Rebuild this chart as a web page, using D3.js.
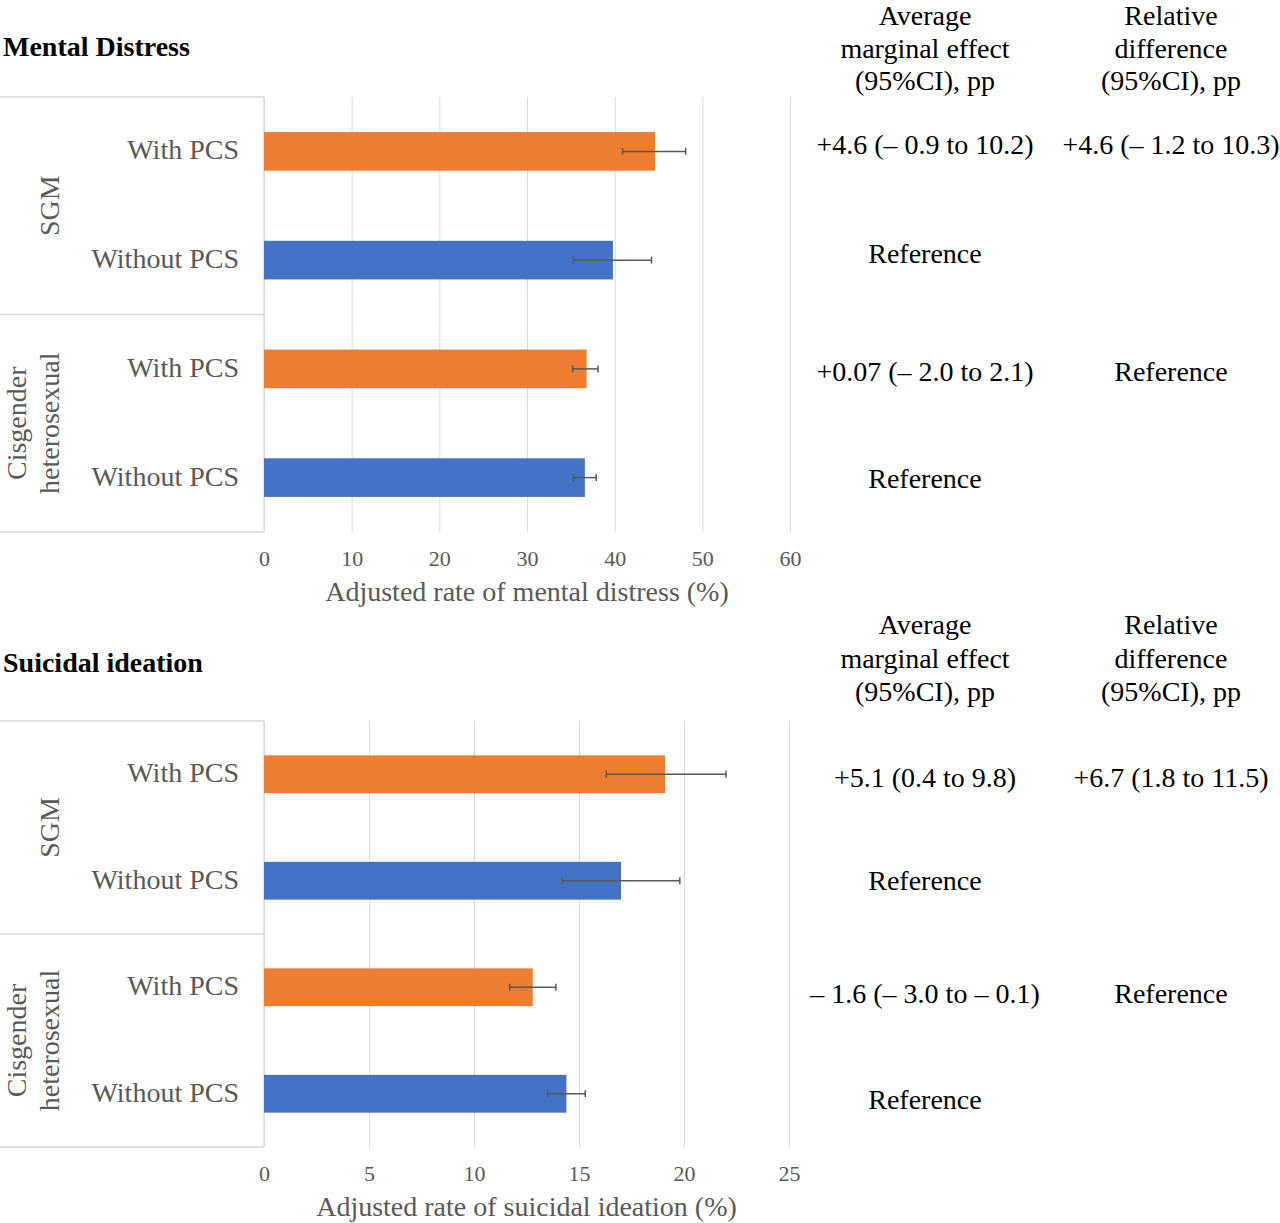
<!DOCTYPE html>
<html>
<head>
<meta charset="utf-8">
<script src="https://cdn.jsdelivr.net/npm/d3@7"></script>
<style>
  body { margin: 0; background: #fff; }
  svg { display: block; font-family: "Liberation Serif", "Times New Roman", serif; }
  .grid line { stroke: #d9d9d9; stroke-width: 1; }
  .grid path { display: none; }
  .ticks path, .ticks line { display: none; }
  .ticks text { font-family: "Liberation Serif", serif; font-size: 22px; fill: #595959; }
  .t_title { font-size: 28px; font-weight: bold; fill: #000; }
  .t_cat { font-size: 28px; fill: #595959; }
  .t_axis { font-size: 28px; fill: #595959; }
  .t_col { font-size: 28px; fill: #000; }
  .frame { stroke: #d9d9d9; stroke-width: 1.3; fill: none; }
  .err { stroke: #595959; stroke-width: 1.5; }
</style>
</head>
<body>
<svg width="1280" height="1223"></svg>
<script>
/* ----------------------------------------------------------
data
---------------------------------------------------------- */

var groups = ["SGM", "Cisgender heterosexual"];
var rowGroup = ["SGM", "SGM", "Cisgender heterosexual", "Cisgender heterosexual"];
var rowLabels = ["With PCS", "Without PCS", "With PCS", "Without PCS"];
var rowPcs = ["with", "without", "with", "without"];

// mental distress (%)
var mentalRate = [44.6, 39.8, 36.8, 36.6];
var mentalLow = [40.9, 35.3, 35.2, 35.3];
var mentalHigh = [48.1, 44.2, 38.1, 37.9];
var mentalTicks = [0, 10, 20, 30, 40, 50, 60];
var mentalAme = ["+4.6 (– 0.9 to 10.2)", "Reference", "+0.07 (– 2.0 to 2.1)", "Reference"];
var mentalRel = ["+4.6 (– 1.2 to 10.3)", "", "Reference", ""];

// suicidal ideation (%)
var suicideRate = [19.1, 17.0, 12.8, 14.4];
var suicideLow = [16.3, 14.2, 11.7, 13.5];
var suicideHigh = [22.0, 19.8, 13.9, 15.3];
var suicideTicks = [0, 5, 10, 15, 20, 25];
var suicideAme = ["+5.1 (0.4 to 9.8)", "Reference", "– 1.6 (– 3.0 to – 0.1)", "Reference"];
var suicideRel = ["+6.7 (1.8 to 11.5)", "", "Reference", ""];

var headAme = ["Average", "marginal effect", "(95%CI), pp"];
var headRel = ["Relative", "difference", "(95%CI), pp"];

/* ----------------------------------------------------------
setting
---------------------------------------------------------- */

var colors = { "with": "#ed7d31", "without": "#4472c4" };

var panels = [
  {
    title: "Mental Distress", titleY: 56,
    headY: 25, headGap: 32.5, top: 97, bottom: 532, x0: 264, x1: 790,
    rate: mentalRate, low: mentalLow, high: mentalHigh, ticks: mentalTicks,
    ame: mentalAme, rel: mentalRel,
    axisTitle: "Adjusted rate of mental distress (%)",
    textShift: [-6, -6, 3, 1]
  },
  {
    title: "Suicidal ideation", titleY: 672,
    headY: 634, headGap: 33.5, top: 721, bottom: 1147, x0: 264, x1: 789,
    rate: suicideRate, low: suicideLow, high: suicideHigh, ticks: suicideTicks,
    ame: suicideAme, rel: suicideRel,
    axisTitle: "Adjusted rate of suicidal ideation (%)",
    textShift: [4, 0, 7, 6]
  }
];

var colAmeX = 925;
var colRelX = 1171;

/* ----------------------------------------------------------
draw
---------------------------------------------------------- */

var svg = d3.select("svg");

panels.forEach(function(p) {
  var g = svg.append("g");
  var ids = rowLabels.map(function(d, i) { return i; });
  var maxV = p.ticks[p.ticks.length - 1];

  var x = d3.scaleLinear().domain([0, maxV]).range([p.x0, p.x1]);
  var y = d3.scaleBand().domain(ids).range([p.top, p.bottom])
    .paddingInner(0.645).paddingOuter(0.3225);
  var gy = d3.scaleBand().domain(groups).range([p.top, p.bottom]);
  var cy = function(i) { return y(i) + y.bandwidth() / 2; };

  // title
  g.append("text").attr("class", "t_title")
    .attr("x", 3).attr("y", p.titleY).text(p.title);

  // grid
  g.append("g").attr("class", "grid")
    .attr("transform", "translate(0," + p.bottom + ")")
    .call(d3.axisBottom(x).tickValues(p.ticks).tickSize(-(p.bottom - p.top)).tickFormat(""));

  // category frame
  g.selectAll(".hline").data([p.top, gy(groups[1]), p.bottom]).enter()
    .append("line").attr("class", "frame")
    .attr("x1", 0).attr("x2", p.x0)
    .attr("y1", function(d) { return d; }).attr("y2", function(d) { return d; });
  g.append("line").attr("class", "frame")
    .attr("x1", p.x0).attr("x2", p.x0).attr("y1", p.top).attr("y2", p.bottom);

  // group labels (rotated)
  groups.forEach(function(name) {
    var words = name.split(" ");
    var c = gy(name) + gy.bandwidth() / 2;
    var t = g.append("text").attr("class", "t_cat")
      .attr("text-anchor", "middle")
      .attr("transform", "translate(59," + c + ") rotate(-90)");
    words.forEach(function(w, k) {
      t.append("tspan").attr("x", 0)
        .attr("y", (k - (words.length - 1)) * 33)
        .text(w);
    });
  });

  // row labels
  g.selectAll(".rowlab").data(ids).enter().append("text")
    .attr("class", "t_cat").attr("text-anchor", "end")
    .attr("x", 239).attr("y", function(i) { return cy(i) + 8; })
    .text(function(i) { return rowLabels[i]; });

  // bars
  g.selectAll(".bar").data(ids).enter().append("rect")
    .attr("x", x(0)).attr("y", function(i) { return y(i); })
    .attr("width", function(i) { return x(p.rate[i]) - x(0); })
    .attr("height", y.bandwidth())
    .attr("fill", function(i) { return colors[rowPcs[i]]; });

  // error bars
  var eb = g.selectAll(".eb").data(ids).enter().append("g");
  eb.append("line").attr("class", "err")
    .attr("x1", function(i) { return x(p.low[i]); })
    .attr("x2", function(i) { return x(p.high[i]); })
    .attr("y1", cy).attr("y2", cy);
  [p.low, p.high].forEach(function(arr) {
    eb.append("line").attr("class", "err")
      .attr("x1", function(i) { return x(arr[i]); })
      .attr("x2", function(i) { return x(arr[i]); })
      .attr("y1", function(i) { return cy(i) - 3.5; })
      .attr("y2", function(i) { return cy(i) + 3.5; });
  });

  // tick labels
  var ax = g.append("g").attr("class", "ticks")
    .attr("transform", "translate(0," + p.bottom + ")")
    .call(d3.axisBottom(x).tickValues(p.ticks).tickSize(0).tickPadding(0));
  ax.selectAll("text").attr("dy", null).attr("y", 34);

  // axis title
  g.append("text").attr("class", "t_axis").attr("text-anchor", "middle")
    .attr("x", (p.x0 + p.x1) / 2).attr("y", p.bottom + 69)
    .text(p.axisTitle);

  // column headers
  [[colAmeX, headAme], [colRelX, headRel]].forEach(function(h) {
    g.selectAll(null).data(h[1]).enter().append("text")
      .attr("class", "t_col").attr("text-anchor", "middle")
      .attr("x", h[0]).attr("y", function(d, k) { return p.headY + k * p.headGap; })
      .text(function(d) { return d; });
  });

  // column values
  [[colAmeX, p.ame], [colRelX, p.rel]].forEach(function(c) {
    g.selectAll(null).data(ids.filter(function(i) { return c[1][i] !== ""; }))
      .enter().append("text")
      .attr("class", "t_col").attr("text-anchor", "middle")
      .attr("x", c[0]).attr("y", function(i) { return cy(i) + 9 + p.textShift[i]; })
      .text(function(i) { return c[1][i]; });
  });
});
</script>
</body>
</html>
